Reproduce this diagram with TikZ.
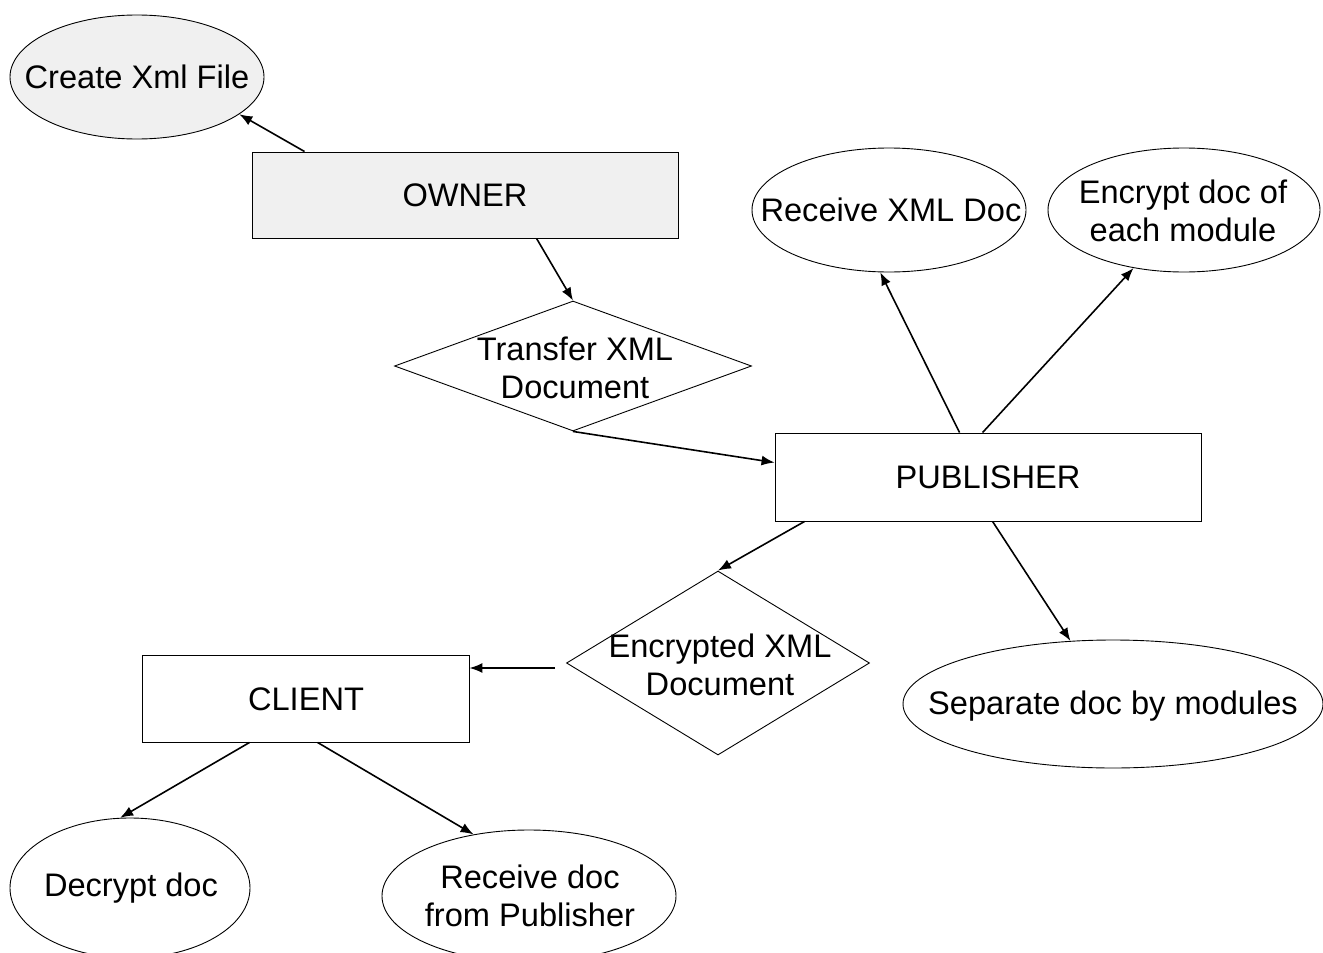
\documentclass[tikz,border=0pt]{standalone}
\usepackage{fontspec}
\setmainfont{Liberation Sans}
\usetikzlibrary{shapes.geometric,arrows.meta}
\begin{document}
\begin{tikzpicture}[x=1pt,y=-1pt,
  outline/.style={draw=black, line width=0.9pt},
  oval/.style={outline, ellipse, inner sep=0pt},
  box/.style={outline, rectangle, inner sep=0pt},
  decision/.style={outline, diamond, inner sep=0pt},
  txt/.style={font=\fontsize{32.6}{38}\selectfont, align=center, inner sep=0pt},
  arr/.style={line width=1.6pt, -{Latex[length=13pt,width=10pt]}},
  scan/.style={fill=black!6}
]
\useasboundingbox (0,0) rectangle (1323,953);

% owner side
\node[oval, scan, minimum width=254pt, minimum height=124pt] (createxml) at (137,77) {};
\node[txt] (createxml-t) at (createxml) {Create Xml File};
\node[box, scan, minimum width=426pt, minimum height=86pt] (owner) at (465,195) {};
\node[txt] (owner-t) at (owner) {OWNER};
\node[decision, minimum width=357pt, minimum height=130pt] (transfer) at (573,366) {};
\node[txt] (transfer-t) at (575,368) {Transfer XML\\Document};

% publisher side
\node[box, minimum width=426pt, minimum height=88pt] (publisher) at (988,477) {};
\node[txt] (publisher-t) at (publisher) {PUBLISHER};
\node[oval, minimum width=274pt, minimum height=124pt] (receivexml) at (889,210) {};
\node[txt] (receivexml-t) at (891,210) {Receive XML Doc};
\node[oval, minimum width=272pt, minimum height=124pt] (encryptmod) at (1184,210) {};
\node[txt] (encryptmod-t) at (1183,211) {Encrypt doc of\\each module};
\node[oval, minimum width=420pt, minimum height=128pt] (separate) at (1113,704) {};
\node[txt] (separate-t) at (1113,706) {Separate doc by modules};
\node[decision, minimum width=303pt, minimum height=184pt] (encxml) at (718,663) {};
\node[txt] (encxml-t) at (720,665) {Encrypted XML\\Document};

% client side
\node[box, minimum width=327pt, minimum height=87pt] (client) at (305.5,698.5) {};
\node[txt] (client-t) at (306,699) {CLIENT};
\node[oval, minimum width=240pt, minimum height=140pt] (decrypt) at (130,888) {};
\node[txt] (decrypt-t) at (131,888) {Decrypt doc};
\node[oval, minimum width=294pt, minimum height=132pt] (receivedoc) at (529,896) {};
\node[txt] (receivedoc-t) at (530,896) {Receive doc\\from Publisher};

% connectors
\draw[arr] ([xshift=53pt]owner.north west) -- (createxml.-20);
\draw[arr] ([xshift=285pt]owner.south west) -- (transfer.north);
\draw[arr] (transfer.south) -- ([yshift=-30pt]publisher.north west);
\draw[arr] ([xshift=185pt]publisher.north west) -- (receivexml.-98);
\draw[arr] ([xshift=208pt]publisher.north west) -- (encryptmod.-131);
\draw[arr] ([xshift=30pt]publisher.south west) -- (encxml.north);
\draw[arr] ([xshift=218pt]publisher.south west) -- (separate.124);
\draw[arr] ([xshift=-11pt,yshift=-5pt]encxml.west) -- ([yshift=-5pt]client.east |- encxml.west);
\draw[arr] ([xshift=108pt]client.south west) -- (decrypt.98);
\draw[arr] ([xshift=176pt]client.south west) -- (receivedoc.132);
\end{tikzpicture}
\end{document}
